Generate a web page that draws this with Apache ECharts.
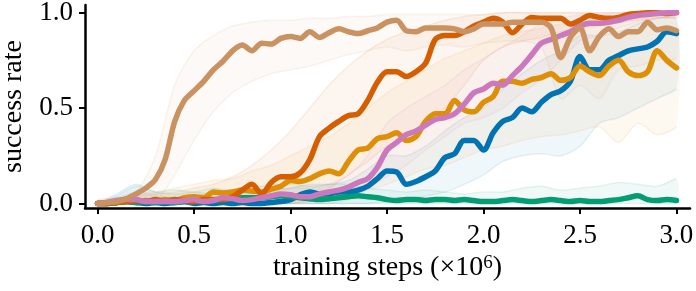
<!DOCTYPE html>
<html>
<head>
<meta charset="utf-8">
<script src="https://cdn.jsdelivr.net/npm/echarts@6/dist/echarts.min.js"></script>
<style>html,body{margin:0;padding:0;background:#fff}#c{width:696px;height:291px}</style>
</head>
<body>
<div id="c"></div>
<script>
// x positions (×10^6 steps) for the mean curves: 0.00, 0.05, ..., 3.00
const steps = Array.from({length: 61}, (_, i) => +(i * 0.05).toFixed(2));
// x positions for the spread bands: 0.0, 0.1, ..., 3.0
const bandSteps = Array.from({length: 31}, (_, i) => +(i * 0.1).toFixed(1));
const xTicks = [0, 0.5, 1.0, 1.5, 2.0, 2.5, 3.0];
const yTicks = [0, 0.5, 1.0];

// mean success rate per method
const blueMean = [0,0,0.005,0.01,0.005,0,0.005,0,0.005,0.01,0,0.005,0,0.005,0,0.005,0,0,0.005,0.01,
  0.02,0.045,0.06,0.05,0.05,0.06,0.06,0.07,0.09,0.13,0.17,0.165,0.10,0.115,0.14,0.17,0.24,0.26,0.33,0.33,
  0.28,0.37,0.43,0.45,0.50,0.48,0.53,0.57,0.59,0.64,0.77,0.70,0.70,0.75,0.775,0.80,0.81,0.82,0.85,0.90,0.89];
const yellowMean = [0,0,0.005,0.01,0.01,0.015,0.01,0.02,0.015,0.03,0.035,0.03,0.06,0.055,0.06,0.07,0.065,0.06,0.075,0.09,
  0.12,0.115,0.13,0.155,0.17,0.155,0.22,0.28,0.29,0.34,0.35,0.37,0.33,0.35,0.43,0.47,0.47,0.54,0.49,0.48,
  0.53,0.56,0.64,0.64,0.63,0.65,0.66,0.68,0.645,0.66,0.72,0.69,0.67,0.72,0.75,0.69,0.67,0.69,0.80,0.75,0.71];
const greenMean = [0,0,0.005,0.01,0.005,0.01,0.005,0.01,0.005,0.01,0.01,0.01,0.015,0.02,0.025,0.03,0.03,0.03,0.035,0.04,
  0.035,0.03,0.025,0.02,0.025,0.03,0.035,0.04,0.035,0.03,0.02,0.015,0.02,0.02,0.015,0.02,0.02,0.015,0.02,0.015,
  0.01,0.01,0.015,0.02,0.015,0.01,0.015,0.02,0.015,0.01,0.015,0.01,0.01,0.015,0.02,0.03,0.04,0.02,0.015,0.02,0.015];
const redMean = [0,0,0.005,0.01,0.015,0.01,0.02,0.01,0.02,0.015,0.01,0.02,0.02,0.02,0.035,0.07,0.10,0.05,0.11,0.14,
  0.14,0.16,0.23,0.35,0.395,0.43,0.46,0.47,0.54,0.635,0.69,0.69,0.665,0.69,0.735,0.86,0.88,0.88,0.90,0.93,
  0.95,0.97,0.95,0.895,0.94,0.975,0.97,0.97,0.97,0.94,0.96,0.985,0.975,0.97,0.975,0.99,0.995,1.0,1.0,0.995,1.0];
const pinkMean = [0,0.005,0.015,0.02,0.02,0.01,0.01,0.01,0.01,0.015,0.02,0.01,0.015,0.03,0.025,0.015,0.02,0.03,0.04,0.05,
  0.045,0.035,0.035,0.05,0.06,0.07,0.085,0.11,0.13,0.19,0.28,0.32,0.36,0.38,0.41,0.44,0.45,0.47,0.52,0.58,
  0.60,0.63,0.62,0.67,0.72,0.78,0.84,0.86,0.88,0.90,0.93,0.945,0.945,0.95,0.96,0.975,0.985,0.99,0.995,1.0,1.0];
const tanMean = [0,0.005,0.01,0.025,0.05,0.08,0.125,0.23,0.43,0.54,0.59,0.64,0.70,0.745,0.80,0.83,0.80,0.84,0.835,0.865,
  0.875,0.865,0.90,0.87,0.895,0.915,0.90,0.89,0.905,0.92,0.95,0.96,0.905,0.90,0.92,0.92,0.92,0.915,0.90,0.915,
  0.94,0.94,0.94,0.95,0.95,0.95,0.95,0.92,0.765,0.87,0.92,0.80,0.875,0.915,0.875,0.90,0.90,0.95,0.91,0.92,0.905];

// spread bands (lower / upper) per method, at bandSteps
const blueLo = [0,0,0,0,0,0,0,0,0,0,0,0,0,0,0,0.01,0.02,0.04,0.06,0.10,0.15,0.22,0.25,0.26,0.25,0.30,0.42,0.45,0.50,0.55,0.60];
const blueHi = [0,0.05,0.10,0.06,0.05,0.06,0.05,0.06,0.06,0.07,0.08,0.10,0.10,0.12,0.18,0.25,0.25,0.30,0.38,0.45,0.50,0.60,0.68,0.75,0.80,0.88,0.88,0.90,0.94,0.97,0.97];
const yellowLo = [0,0,0,0,0,0,0,0,0,0,0,0.01,0.02,0.04,0.07,0.10,0.14,0.18,0.20,0.24,0.28,0.30,0.33,0.35,0.36,0.38,0.40,0.32,0.42,0.36,0.40];
const yellowHi = [0,0.02,0.05,0.06,0.08,0.10,0.12,0.13,0.17,0.20,0.25,0.30,0.35,0.42,0.50,0.58,0.64,0.70,0.76,0.80,0.84,0.88,0.90,0.92,0.94,0.95,0.96,0.96,0.97,0.98,0.97];
const greenLo = [0,0,0,0,0,0,0,0,0,0,0,0,0,0,0,0,0,0,0,0,0,0,0,0,0,0,0,0,0,0,0];
const greenHi = [0,0.04,0.09,0.06,0.07,0.06,0.08,0.07,0.08,0.10,0.10,0.09,0.10,0.10,0.08,0.07,0.06,0.07,0.06,0.05,0.06,0.06,0.08,0.09,0.07,0.08,0.09,0.11,0.10,0.09,0.13];
const redLo = [0,0,0,0,0,0,0,0,0,0,0,0.02,0.08,0.15,0.22,0.30,0.35,0.42,0.50,0.62,0.75,0.82,0.85,0.87,0.90,0.92,0.93,0.95,0.96,0.97,0.98];
const redHi = [0.02,0.03,0.04,0.05,0.06,0.08,0.10,0.14,0.20,0.28,0.38,0.50,0.62,0.72,0.80,0.86,0.90,0.93,0.96,0.98,0.99,1,1,1,1,1,1,1,1,1,1];
const pinkLo = [0,0,0,0,0,0,0,0,0,0,0,0,0,0.02,0.08,0.14,0.20,0.28,0.35,0.42,0.45,0.50,0.58,0.65,0.75,0.85,0.88,0.92,0.95,0.97,0.99];
const pinkHi = [0,0.03,0.06,0.04,0.03,0.04,0.05,0.05,0.06,0.07,0.08,0.08,0.10,0.15,0.25,0.42,0.50,0.56,0.62,0.70,0.76,0.82,0.88,0.94,0.97,0.99,1,1,1,1,1];
const tanLo = [0,0,0,0.01,0.15,0.33,0.48,0.58,0.64,0.68,0.70,0.72,0.75,0.78,0.80,0.82,0.80,0.82,0.83,0.82,0.84,0.85,0.85,0.82,0.55,0.62,0.55,0.70,0.72,0.75,0.76];
const tanHi = [0,0.01,0.06,0.25,0.62,0.80,0.88,0.93,0.95,0.96,0.96,0.97,0.97,0.98,0.98,0.99,0.99,0.99,0.99,0.99,0.99,1,1,1,1,1,0.99,1,1,1,1];

const methods = [
  {name: 'blue',   color: '#0173B2', mean: blueMean,   lo: blueLo,   hi: blueHi},
  {name: 'yellow', color: '#DE8F05', mean: yellowMean, lo: yellowLo, hi: yellowHi},
  {name: 'green',  color: '#029E73', mean: greenMean,  lo: greenLo,  hi: greenHi},
  {name: 'red',    color: '#D55E00', mean: redMean,    lo: redLo,    hi: redHi},
  {name: 'pink',   color: '#CC78BC', mean: pinkMean,   lo: pinkLo,   hi: pinkHi},
  {name: 'tan',    color: '#CA9161', mean: tanMean,    lo: tanLo,    hi: tanHi}
];

function bandRenderer(color) {
  return function (params, api) {
    if (params.dataIndexInside !== 0) return null;
    const n = params.dataInsideLength;
    const upper = [], lower = [];
    for (let i = 0; i < n; i++) {
      const x = api.value(0, i);
      upper.push(api.coord([x, api.value(2, i)]));
      lower.push(api.coord([x, api.value(1, i)]));
    }
    const poly = upper.concat(lower.slice().reverse());
    return {
      type: 'group',
      children: [
        {type: 'polygon', shape: {points: poly, smooth: 0.3}, style: {fill: color, opacity: 0.06}, silent: true},
        {type: 'polyline', shape: {points: upper, smooth: 0.3}, style: {stroke: color, fill: null, lineWidth: 1.5, opacity: 0.1}, silent: true},
        {type: 'polyline', shape: {points: lower, smooth: 0.3}, style: {stroke: color, fill: null, lineWidth: 1.5, opacity: 0.1}, silent: true}
      ]
    };
  };
}

const series = [];
methods.forEach(m => {
  series.push({
    name: m.name + '-band', type: 'custom', silent: true, z: 1, clip: true,
    renderItem: bandRenderer(m.color),
    encode: {x: 0, y: [1, 2]},
    data: bandSteps.map((x, i) => [x, m.lo[i], m.hi[i]])
  });
});
methods.forEach(m => {
  series.push({
    name: m.name, type: 'line', symbol: 'none', silent: true, smooth: 0.3,
    data: steps.map((x, i) => [x, m.mean[i]]),
    lineStyle: {color: m.color, width: 5.5, cap: 'round', join: 'round'}, z: 3
  });
});

const font = 'Liberation Serif';
const chart = echarts.init(document.getElementById('c'), null, {renderer: 'canvas'});
chart.setOption({
  animation: false,
  grid: {left: 85, right: 6, top: 5, bottom: 83, containLabel: false, outerBoundsMode: 'none'},
  xAxis: {
    type: 'value', min: -0.065, max: 3.07,
    name: 'training steps (×10{s|6})', nameLocation: 'middle', nameGap: 40,
    nameTextStyle: {fontFamily: font, fontSize: 28, color: '#000',
      rich: {s: {fontFamily: font, fontSize: 19, color: '#000', verticalAlign: 'top', lineHeight: 28}}},
    axisLine: {show: true, onZero: false, lineStyle: {color: '#000', width: 2.5}},
    axisTick: {show: true, length: 6, lineStyle: {color: '#000', width: 2}, customValues: xTicks},
    axisLabel: {customValues: xTicks, formatter: v => v.toFixed(1), fontFamily: font, fontSize: 27, color: '#000', margin: 14},
    splitLine: {show: false}
  },
  yAxis: {
    type: 'value', min: -0.024, max: 1.04,
    name: 'success rate', nameLocation: 'middle', nameGap: 57, nameRotate: 90,
    nameTextStyle: {fontFamily: font, fontSize: 28, color: '#000'},
    axisLine: {show: true, onZero: false, lineStyle: {color: '#000', width: 2.5}},
    axisTick: {show: true, length: 6, lineStyle: {color: '#000', width: 2}, customValues: yTicks},
    axisLabel: {customValues: yTicks, formatter: v => v.toFixed(1), fontFamily: font, fontSize: 27, color: '#000', margin: 12},
    splitLine: {show: false}
  },
  series: series
});
</script>
</body>
</html>
